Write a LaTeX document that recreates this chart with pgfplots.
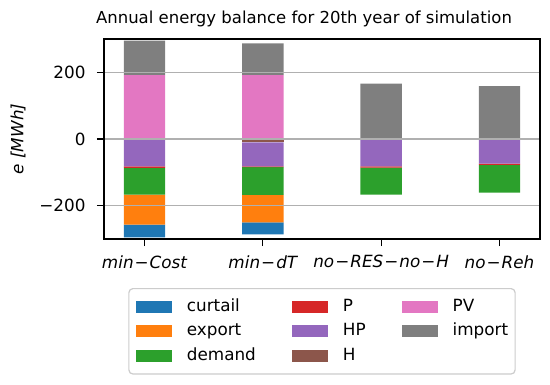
\documentclass[border=0pt]{standalone}
\usepackage{pgfplots}
\pgfplotsset{compat=1.18}
\usepackage{fontspec}
\setmainfont{DejaVu Sans}
\definecolor{tabblue}{HTML}{1F77B4}
\definecolor{taborange}{HTML}{FF7F0E}
\definecolor{tabgreen}{HTML}{2CA02C}
\definecolor{tabred}{HTML}{D62728}
\definecolor{tabpurple}{HTML}{9467BD}
\definecolor{tabbrown}{HTML}{8C564B}
\definecolor{tabpink}{HTML}{E377C2}
\definecolor{tabgray}{HTML}{7F7F7F}
\definecolor{gridgray}{HTML}{B0B0B0}
\definecolor{legendgray}{HTML}{CCCCCC}
\newcommand{\fs}{\fontsize{16.8bp}{20bp}\selectfont}
\newcommand{\mm}{\hspace{1bp}{\upshape −}\hspace{1bp}}
\pgfplotsset{
  common/.style={scale only axis, width=436bp, height=200bp,
    xmin=-0.3425, xmax=3.3425, ymin=-300, ymax=300,
    ybar stacked, bar width=0.35,
    every axis plot/.append style={draw=none}},
  myleg/.style={legend image code/.code={\fill[sharp corners, #1] (0bp,-6bp) rectangle (36bp,6bp);}}
}
\begin{document}
\begin{tikzpicture}
% negative stack (stacked downward from zero)
\begin{axis}[common, hide axis]
\addplot[fill=tabbrown]  coordinates {(0,0) (1,-10) (2,0) (3,0)};
\addplot[fill=tabpurple] coordinates {(0,-82) (1,-72) (2,-82) (3,-74)};
\addplot[fill=tabred]    coordinates {(0,-5) (1,-2.5) (2,-4) (3,-4)};
\addplot[fill=tabgreen]  coordinates {(0,-80) (1,-83) (2,-81) (3,-83)};
\addplot[fill=taborange] coordinates {(0,-90) (1,-83) (2,0) (3,0)};
\addplot[fill=tabblue]   coordinates {(0,-38) (1,-36) (2,0) (3,0)};
\end{axis}
% positive stack and decorations
\begin{axis}[common, name=ax,
  axis on top,
  xtick={0,1,2,3},
  xticklabels={{\itshape min\mm Cost},{\itshape min\mm dT},{\itshape no\mm RES\mm no\mm H},{\itshape no\mm Reh}},
  ytick={-200,0,200}, yticklabels={−200,0,200},
  ymajorgrids, grid style={color=gridgray, line width=1.6bp},
  axis line style={line width=1.4bp},
  tick align=outside, major tick length=7bp,
  tick style={black, line width=1.3bp},
  xtick pos=bottom, ytick pos=left,
  ticklabel style={font=\fs},
  yticklabel style={xshift=-8bp},
  xticklabel style={yshift=-6bp},
  ylabel={\itshape e [MWh]},
  ylabel style={font=\fs, at={(axis description cs:-0.197,0.5)}, anchor=center},
  legend columns=3,
  legend cell align=left,
  legend style={at={(0.5,-0.245)}, anchor=north, draw=legendgray, line width=1.2bp,
    rounded corners=4bp, font=\fs, inner xsep=7bp, inner ysep=10.5bp,
    nodes={inner sep=0bp, text height=12.5bp, text depth=3.5bp},
    row sep=8.2bp,
    /tikz/every odd column/.append style={column sep=15bp},
    /tikz/every even column/.append style={column sep=36bp}},
]
\addlegendimage{myleg=tabblue}\addlegendentry{curtail}
\addlegendimage{myleg=tabred}\addlegendentry{P}
\addlegendimage{myleg=tabpink}\addlegendentry{PV}
\addlegendimage{myleg=taborange}\addlegendentry{export}
\addlegendimage{myleg=tabpurple}\addlegendentry{HP}
\addlegendimage{myleg=tabgray}\addlegendentry{import}
\addlegendimage{myleg=tabgreen}\addlegendentry{demand}
\addlegendimage{myleg=tabbrown}\addlegendentry{H}
\addplot[fill=tabpink, forget plot] coordinates {(0,192) (1,192) (2,0) (3,0)};
\addplot[fill=tabgray, forget plot] coordinates {(0,103) (1,95) (2,166) (3,159)};
\end{axis}
\node[anchor=base, font=\fontsize{16.5bp}{19bp}\selectfont] at ([shift={(200bp,16bp)}]ax.north west) {Annual energy balance for 20th year of simulation};
\pgfresetboundingbox
\path ([shift={(-104bp,-146bp)}]ax.south west) rectangle ([shift={(10bp,39bp)}]ax.north east);
\end{tikzpicture}
\end{document}
